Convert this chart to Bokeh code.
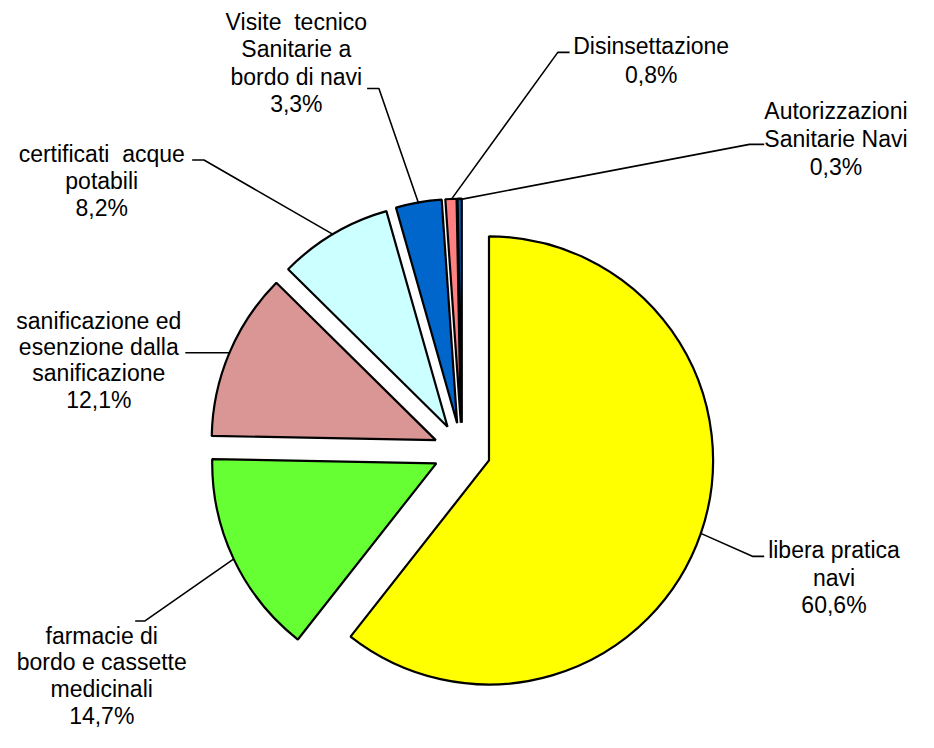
import math
from bokeh.plotting import figure
from bokeh.models import Range1d, ColumnDataSource
from bokeh.embed import file_html
from bokeh.resources import INLINE
from bokeh.core.properties import value

# ---- data ----
categories = ["libera pratica navi", "farmacie di bordo e cassette medicinali",
              "sanificazione ed esenzione dalla sanificazione", "certificati  acque potabili",
              "Visite  tecnico Sanitarie a bordo di navi", "Disinsettazione",
              "Autorizzazioni Sanitarie Navi"]
percent = [60.6, 14.7, 12.1, 8.2, 3.3, 0.8, 0.3]
pct_labels = ["60,6%", "14,7%", "12,1%", "8,2%", "3,3%", "0,8%", "0,3%"]
label_lines = [
    ["libera pratica", "navi"],
    ["farmacie di", "bordo e cassette", "medicinali"],
    ["sanificazione ed", "esenzione dalla", "sanificazione"],
    ["certificati\u00a0 acque", "potabili"],
    ["Visite\u00a0 tecnico", "Sanitarie a", "bordo di navi"],
    ["Disinsettazione"],
    ["Autorizzazioni", "Sanitarie Navi"],
]
colors = ["#FFFF00", "#66FF33", "#D99694", "#CCFFFF", "#0066CC", "#FF8080", "#0066CC"]

# ---- layout (reference px, y downward) ----
CX, CY = 469.6, 460.5
R = 228.0
EXPLODE = 29.0
FONT = value("Liberation Sans")
FSIZE = "23px"
# label centre x, first line centre y, line spacing
label_pos = [(848, 562, 28), (103, 649, 27.3), (100, 327, 27), (103, 157, 27.5),
             (301, 22, 28), (662, 47, 29), (850, 113, 28.5)]
# elbow point and end of horizontal tick
elbows = [((765, 568), (777, 568)), ((147, 634), (137, 634)), ((233, 360), (188, 360)),
          ((207, 163), (195, 163)), ((385, 90), (373, 90)), ((567, 53), (579, 53)),
          ((762, 147), (777, 147))]

p = figure(width=918, height=732, output_backend="svg", toolbar_location=None,
           x_range=Range1d(0, 934), y_range=Range1d(-748, 0), min_border=0)
p.axis.visible = False
p.grid.visible = False
p.outline_line_color = None
p.background_fill_color = "white"

total = sum(percent)
cum = 0.0
wx, wy, sa, ea = [], [], [], []
lead_x, lead_y = [], []
tx, ty, tt = [], [], []
for i, v in enumerate(percent):
    t1 = cum / total * 360.0
    t2 = (cum + v) / total * 360.0
    cum += v
    mid = math.radians((t1 + t2) / 2)
    dx, dy = math.sin(mid), math.cos(mid)  # data coords (y up)
    cx = CX + EXPLODE * dx
    cy = -CY + EXPLODE * dy
    wx.append(cx)
    wy.append(cy)
    sa.append(math.radians(90 - t2))
    ea.append(math.radians(90 - t1))
    # leader line
    sx, sy = cx + R * dx, cy + R * dy
    (ex, ey), (hx, hy) = elbows[i]
    lead_x.append([sx, ex, hx])
    lead_y.append([sy, -ey, -hy])
    # labels
    lx, ly, lh = label_pos[i]
    lines = label_lines[i] + [pct_labels[i]]
    for k, s in enumerate(lines):
        tx.append(lx)
        ty.append(-(ly + k * lh))
        tt.append(s)

src = ColumnDataSource(dict(x=wx, y=wy, sa=sa, ea=ea, color=colors, name=categories))
p.wedge(x="x", y="y", radius=R, start_angle="sa", end_angle="ea", source=src,
        fill_color="color", line_color="black", line_width=2.2)

p.multi_line(xs=lead_x, ys=lead_y, line_color="black", line_width=1.6)

p.text(x=tx, y=ty, text=tt, text_font=FONT, text_font_size=FSIZE, text_color="#000000",
       text_align="center", text_baseline="middle")

open("out.html", "w").write(file_html(p, INLINE))
